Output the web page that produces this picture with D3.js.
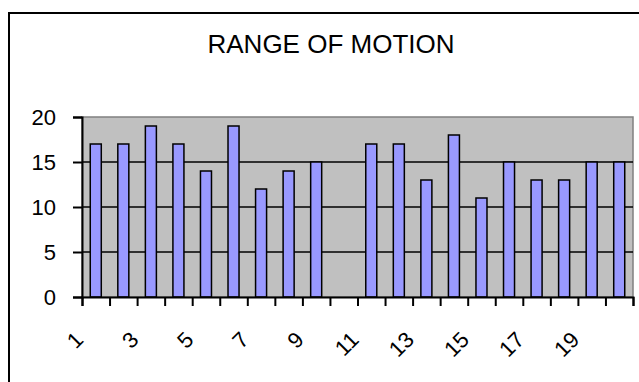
<!DOCTYPE html>
<html>
<head>
<meta charset="utf-8">
<script src="https://cdn.jsdelivr.net/npm/d3@7"></script>
<style>
  html, body { margin: 0; padding: 0; background: #fff; }
  svg { display: block; }
  text { font-family: "Liberation Sans", Arial, sans-serif; fill: #000; }
</style>
</head>
<body>
<svg id="chart" width="639" height="382"></svg>
<script>
// Range of motion per session (session 10 has no measurement)
const categories = d3.range(1, 21);
const values = [17, 17, 19, 17, 14, 19, 12, 14, 15, null, 17, 17, 13, 18, 11, 15, 13, 13, 15, 15];
const yTicks = [0, 5, 10, 15, 20];
const xLabels = ["1", "3", "5", "7", "9", "11", "13", "15", "17", "19"];
const title = "RANGE OF MOTION";

const svg = d3.select("#chart");
const plot = { left: 82, right: 633, top: 117, bottom: 297 };

// Outer chart frame (runs off the right and bottom edges)
svg.append("rect")
  .attr("x", 9).attr("y", 13)
  .attr("width", 700).attr("height", 500)
  .attr("fill", "#fff").attr("stroke", "#000").attr("stroke-width", 2);

svg.append("text")
  .attr("x", 331).attr("y", 53)
  .attr("text-anchor", "middle")
  .style("font-size", "26px")
  .text(title);

const x = d3.scaleBand()
  .domain(categories)
  .range([plot.left, plot.right])
  .paddingInner(0.6)
  .paddingOuter(0.3);

const xEdges = d3.scaleLinear()
  .domain([0, categories.length])
  .range([plot.left, plot.right]);

const y = d3.scaleLinear()
  .domain([0, 20])
  .range([plot.bottom, plot.top]);

// Plot area background with grey border
svg.append("rect")
  .attr("x", plot.left).attr("y", plot.top)
  .attr("width", plot.right - plot.left).attr("height", plot.bottom - plot.top)
  .attr("fill", "#c0c0c0").attr("stroke", "#808080").attr("stroke-width", 1.5);

// Horizontal gridlines
svg.append("g")
  .selectAll("line")
  .data(yTicks.filter(t => t > 0 && t < 20))
  .join("line")
  .attr("x1", plot.left).attr("x2", plot.right)
  .attr("y1", d => y(d)).attr("y2", d => y(d))
  .attr("stroke", "#000").attr("stroke-width", 1.6);

// Bars
svg.append("g")
  .selectAll("rect")
  .data(categories.map((c, i) => ({ c, v: values[i] })).filter(d => d.v != null))
  .join("rect")
  .attr("x", d => x(d.c))
  .attr("width", x.bandwidth())
  .attr("y", d => y(d.v))
  .attr("height", d => y(0) - y(d.v))
  .attr("fill", "#9999ff")
  .attr("stroke", "#000")
  .attr("stroke-width", 1.5);

// Y axis
const yAxis = svg.append("g")
  .attr("transform", `translate(${plot.left},0)`)
  .call(d3.axisLeft(y).tickValues(yTicks).tickSize(9).tickPadding(17));
yAxis.select(".domain").attr("stroke", "#000").attr("stroke-width", 2);
yAxis.selectAll(".tick line").attr("stroke", "#000").attr("stroke-width", 2);
yAxis.selectAll(".tick text")
  .style("font-size", "22px")
  .style("font-family", "'Liberation Sans', Arial, sans-serif")
  .attr("fill", "#000");

// X axis: tick marks at category boundaries
const xAxis = svg.append("g")
  .attr("transform", `translate(0,${plot.bottom})`)
  .call(d3.axisBottom(xEdges).ticks(categories.length).tickSize(9).tickFormat(""));
xAxis.select(".domain").attr("stroke", "#000").attr("stroke-width", 2);
xAxis.selectAll(".tick line").attr("stroke", "#000").attr("stroke-width", 2);

// Rotated category labels
svg.append("g")
  .selectAll("text")
  .data(xLabels)
  .join("text")
  .attr("text-anchor", "end")
  .attr("transform", d => `translate(${x(+d) + x.bandwidth() / 2 - 11},341) rotate(-45)`)
  .style("font-size", "22px")
  .text(d => d);
</script>
</body>
</html>
